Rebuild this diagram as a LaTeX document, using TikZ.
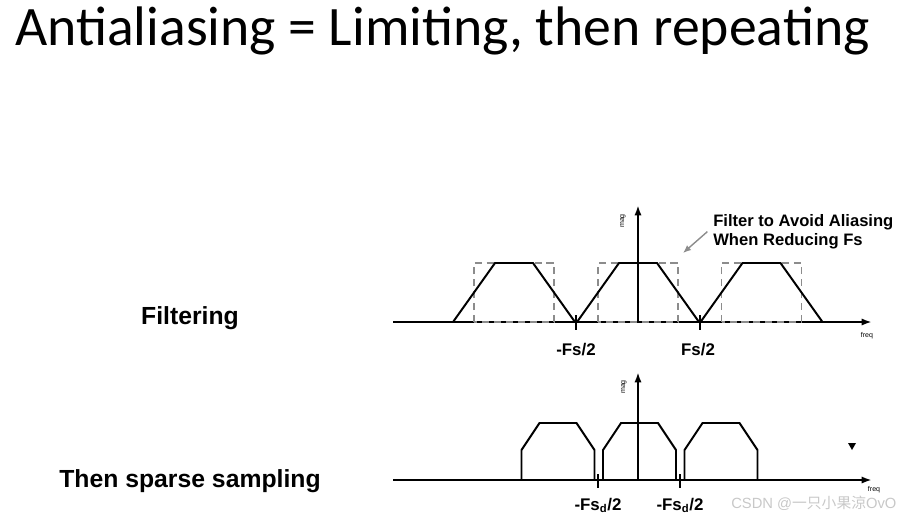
\documentclass[tikz,border=0pt]{standalone}
\usepackage{fontspec}
\setmainfont{Liberation Sans}
\newfontfamily\titlefont{Carlito}
\newfontfamily\cjk{Noto Sans CJK SC}
\usepackage{tikz}
\usetikzlibrary{arrows.meta,positioning,calc}
\definecolor{dashgray}{RGB}{140,140,140}
\definecolor{markgray}{RGB}{200,200,200}
\tikzset{
  axisline/.style={-{Latex[length=2.6mm,width=1.8mm]}, line width=1.7pt},
  specline/.style={line width=1.4pt, line join=miter},
  filterbox/.style={draw=dashgray, line width=1.1pt, dash pattern=on 5pt off 3.5pt},
  tickline/.style={line width=1.4pt},
  ticklab/.style={font=\bfseries\fontsize{12}{14}\selectfont, anchor=base, inner sep=0pt},
  rowlab/.style={font=\bfseries\fontsize{17.6}{20}\selectfont, inner sep=0pt},
  tinylab/.style={font=\fontsize{5}{6}\selectfont, inner sep=0pt},
  notearrow/.style={-{Latex[length=2mm,width=1.6mm]}, draw=dashgray, line width=1pt}
}
\begin{document}
\begin{tikzpicture}[x=0.025cm, y=-0.025cm]
  \useasboundingbox (0,0) rectangle (920,516);

  % title and row labels
  \node[font=\titlefont\fontsize{39.6}{44}\selectfont, anchor=base west, inner sep=0pt] (title) at (15,45) {Antialiasing = Limiting, then repeating};
  \node[rowlab] (filtlab) at (190,318) {Filtering};
  \node[rowlab] (samplab) at (190,481) {Then sparse sampling};

  % filtering spectrum
  \coordinate (topx0) at (393,322);
  \coordinate (topx1) at (872,322);
  \coordinate (topy0) at (638,322);
  \coordinate (topy1) at (638,205);
  \draw[axisline] (topx0) -- (topx1);
  \draw[axisline] (topy0) -- (topy1);
  \foreach \c in {514,638,761.5} {
    \draw[filterbox] (\c-40,322) rectangle (\c+40,263);
    \draw[specline] (\c-61,322) -- (\c-19,263) -- (\c+19,263) -- (\c+61,322);
  }
  \draw[tickline] (576,315) -- (576,330);
  \draw[tickline] (700,315) -- (700,330);
  \node[ticklab] (fsneg) at (576,355) {-Fs/2};
  \node[ticklab] (fspos) at (698,355) {Fs/2};
  \node[tinylab, rotate=90] (magtop) at (623,221) {mag};
  \node[tinylab] (freqtop) at (867,336) {freq};

  \node[font=\bfseries\fontsize{11.8}{13.6}\selectfont, align=left, anchor=north west, inner sep=0pt] (note) at (713,214) {Filter to Avoid Aliasing\\When Reducing Fs};
  \coordinate (notetip) at (683,253);
  \draw[notearrow] ([xshift=-4pt]note.west) -- (notetip);

  % sparse sampling spectrum
  \coordinate (botx0) at (393,480);
  \coordinate (botx1) at (872,480);
  \coordinate (boty0) at (638,480);
  \coordinate (boty1) at (638,372);
  \draw[axisline] (botx0) -- (botx1);
  \draw[axisline] (boty0) -- (boty1);
  \foreach \c in {558,639.5,721} {
    \draw[specline] (\c-36.5,480) -- (\c-36.5,450) -- (\c-18.5,423) -- (\c+18.5,423) -- (\c+36.5,450) -- (\c+36.5,480);
  }
  \draw[tickline] (598,474) -- (598,488);
  \draw[tickline] (680,474) -- (680,488);
  \node[ticklab] (fsdneg) at (598,510) {-Fs\textsubscript{d}/2};
  \node[ticklab] (fsdpos) at (680,510) {-Fs\textsubscript{d}/2};
  \node[tinylab, rotate=90] (magbot) at (624,387) {mag};
  \node[tinylab] (freqbot) at (874,490) {freq};
  \fill (848,443) -- (856,443) -- (852,450) -- cycle;

  \node[text=markgray, font=\fontsize{10.5}{12}\selectfont, anchor=west, inner sep=0pt] (mark) at (731,503) {CSDN @\cjk 一只小果涼\rmfamily OvO};
\end{tikzpicture}
\end{document}
